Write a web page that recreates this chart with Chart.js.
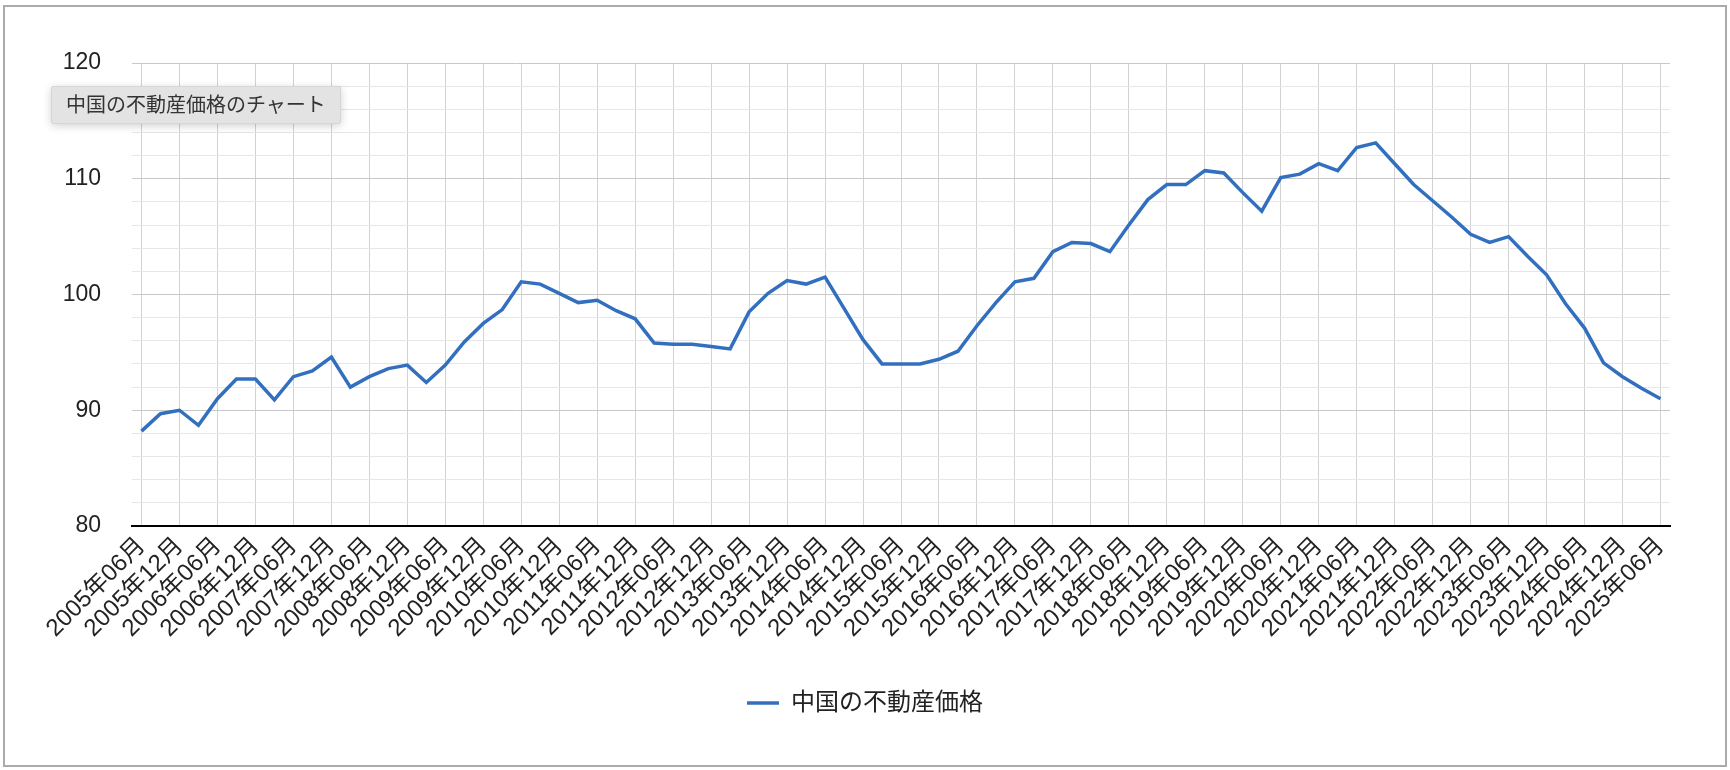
<!DOCTYPE html>
<html lang="ja">
<head>
<meta charset="utf-8">
<title>中国の不動産価格のチャート</title>
<script src="https://cdn.jsdelivr.net/npm/chart.js@4.4.1/dist/chart.umd.min.js"></script>
<style>
  html, body { margin: 0; padding: 0; background: #fff; }
  #wrap { position: relative; width: 1730px; height: 770px; }
  #frame {
    position: absolute; left: 3px; top: 5px; width: 1724px; height: 762px;
    box-sizing: border-box; border: 2px solid #ababab; pointer-events: none;
  }
  #note {
    position: absolute; left: 51px; top: 86px; height: 36px; padding: 0 14px;
    line-height: 36px; font-size: 20px; color: #333; background: #e3e3e3;
    border: 1px solid #d6d6d6; border-radius: 2px;
    box-shadow: 0 2px 8px rgba(0, 0, 0, 0.18);
    font-family: "Liberation Sans", "Noto Sans CJK JP", sans-serif;
  }
</style>
</head>
<body>
<div id="wrap">
  <canvas id="chart" width="1730" height="770"></canvas>
  <div id="frame"></div>
  <div id="note">中国の不動産価格のチャート</div>
</div>
<script>
// Quarterly series, 2005年06月 .. 2025年06月 (81 points)
const startYear = 2005;
const endYear = 2025;
const quarterMonths = ["03", "06", "09", "12"];

const seriesName = "中国の不動産価格";

// values, one per quarter
const prices2005_2009 = [
  88.2, 89.7, 90.0, 88.7, 91.0, 92.7, 92.7, 90.9, 92.9, 93.4,
  94.6, 92.0, 92.9, 93.6, 93.9, 92.4, 93.9, 95.9, 97.5, 98.7,
];
const prices2010_2014 = [
  101.1, 100.9, 100.1, 99.3, 99.5, 98.6, 97.9, 95.8, 95.7, 95.7,
  95.5, 95.3, 98.5, 100.1, 101.2, 100.9, 101.5, 98.8, 96.1, 94.0,
];
const prices2015_2019 = [
  94.0, 94.0, 94.4, 95.1, 97.3, 99.3, 101.1, 101.4, 103.7, 104.5,
  104.4, 103.7, 106.0, 108.2, 109.5, 109.5, 110.7, 110.5, 108.8, 107.2,
];
const prices2020_2025 = [
  110.1, 110.4, 111.3, 110.7, 112.7, 113.1, 111.3, 109.5, 108.1, 106.7,
  105.2, 104.5, 105.0, 103.3, 101.7, 99.2, 97.1, 94.1, 92.9, 91.9,
  91.0,
];

const yTicks = [80, 90, 100, 110, 120];

// quarter labels like 2005年06月
const labels = [];
for (let y = startYear; y <= endYear; y++) {
  quarterMonths.forEach((m) => {
    const key = y * 100 + parseInt(m);
    if (key >= 200506 && key <= 202506) labels.push(`${y}年${m}月`);
  });
}

const values = [
  ...prices2005_2009,
  ...prices2010_2014,
  ...prices2015_2019,
  ...prices2020_2025,
];

const fontFamily = '"Liberation Sans", "Noto Sans CJK JP", sans-serif';
const lineColor = "#3270bf";

new Chart(document.getElementById("chart"), {
  type: "line",
  data: {
    labels: labels,
    datasets: [
      {
        label: seriesName,
        data: values,
        borderColor: lineColor,
        backgroundColor: lineColor,
        borderWidth: 3.5,
        pointRadius: 0,
        tension: 0,
      },
    ],
  },
  options: {
    responsive: false,
    animation: false,
    layout: {
      padding: { left: 0, right: 0, top: 63, bottom: 45 },
    },
    scales: {
      x: {
        offset: true,
        grid: {
          drawTicks: false,
          color: "#d2d2d2",
          lineWidth: 1,
        },
        border: { color: "#000", width: 2 },
        ticks: {
          autoSkip: false,
          minRotation: 45,
          maxRotation: 45,
          padding: 6,
          color: "#222",
          font: { family: fontFamily, size: 24 },
          // every second quarter gets a label and a grid line
          callback: function (value, index) {
            return index % 2 === 0 ? labels[index] : null;
          },
        },
        afterFit: function (scale) {
          scale.height = 155;
        },
      },
      y: {
        min: 80,
        max: 120,
        grid: {
          drawTicks: false,
          color: (ctx) =>
            yTicks.includes(ctx.tick.value) ? "#c8c8c8" : "#e6e6e6",
        },
        border: { display: false },
        ticks: {
          stepSize: 2,
          maxTicksLimit: 30,
          autoSkip: false,
          padding: 31,
          color: "#222",
          font: { family: fontFamily, size: 23 },
          callback: (value) => (yTicks.includes(value) ? value : ""),
        },
        afterFit: function (scale) {
          scale.width = 132;
        },
      },
      // empty right margin, so the legend stays centred on the page
      spacer: {
        position: "right",
        grid: { display: false },
        border: { display: false },
        ticks: { display: false },
        afterFit: function (scale) {
          scale.width = 60;
        },
      },
    },
    plugins: {
      legend: {
        position: "bottom",
        labels: {
          usePointStyle: true,
          pointStyle: "line",
          pointStyleWidth: 32,
          color: "#222",
          font: { family: fontFamily, size: 24 },
        },
      },
      tooltip: { enabled: false },
    },
  },
});
</script>
</body>
</html>
